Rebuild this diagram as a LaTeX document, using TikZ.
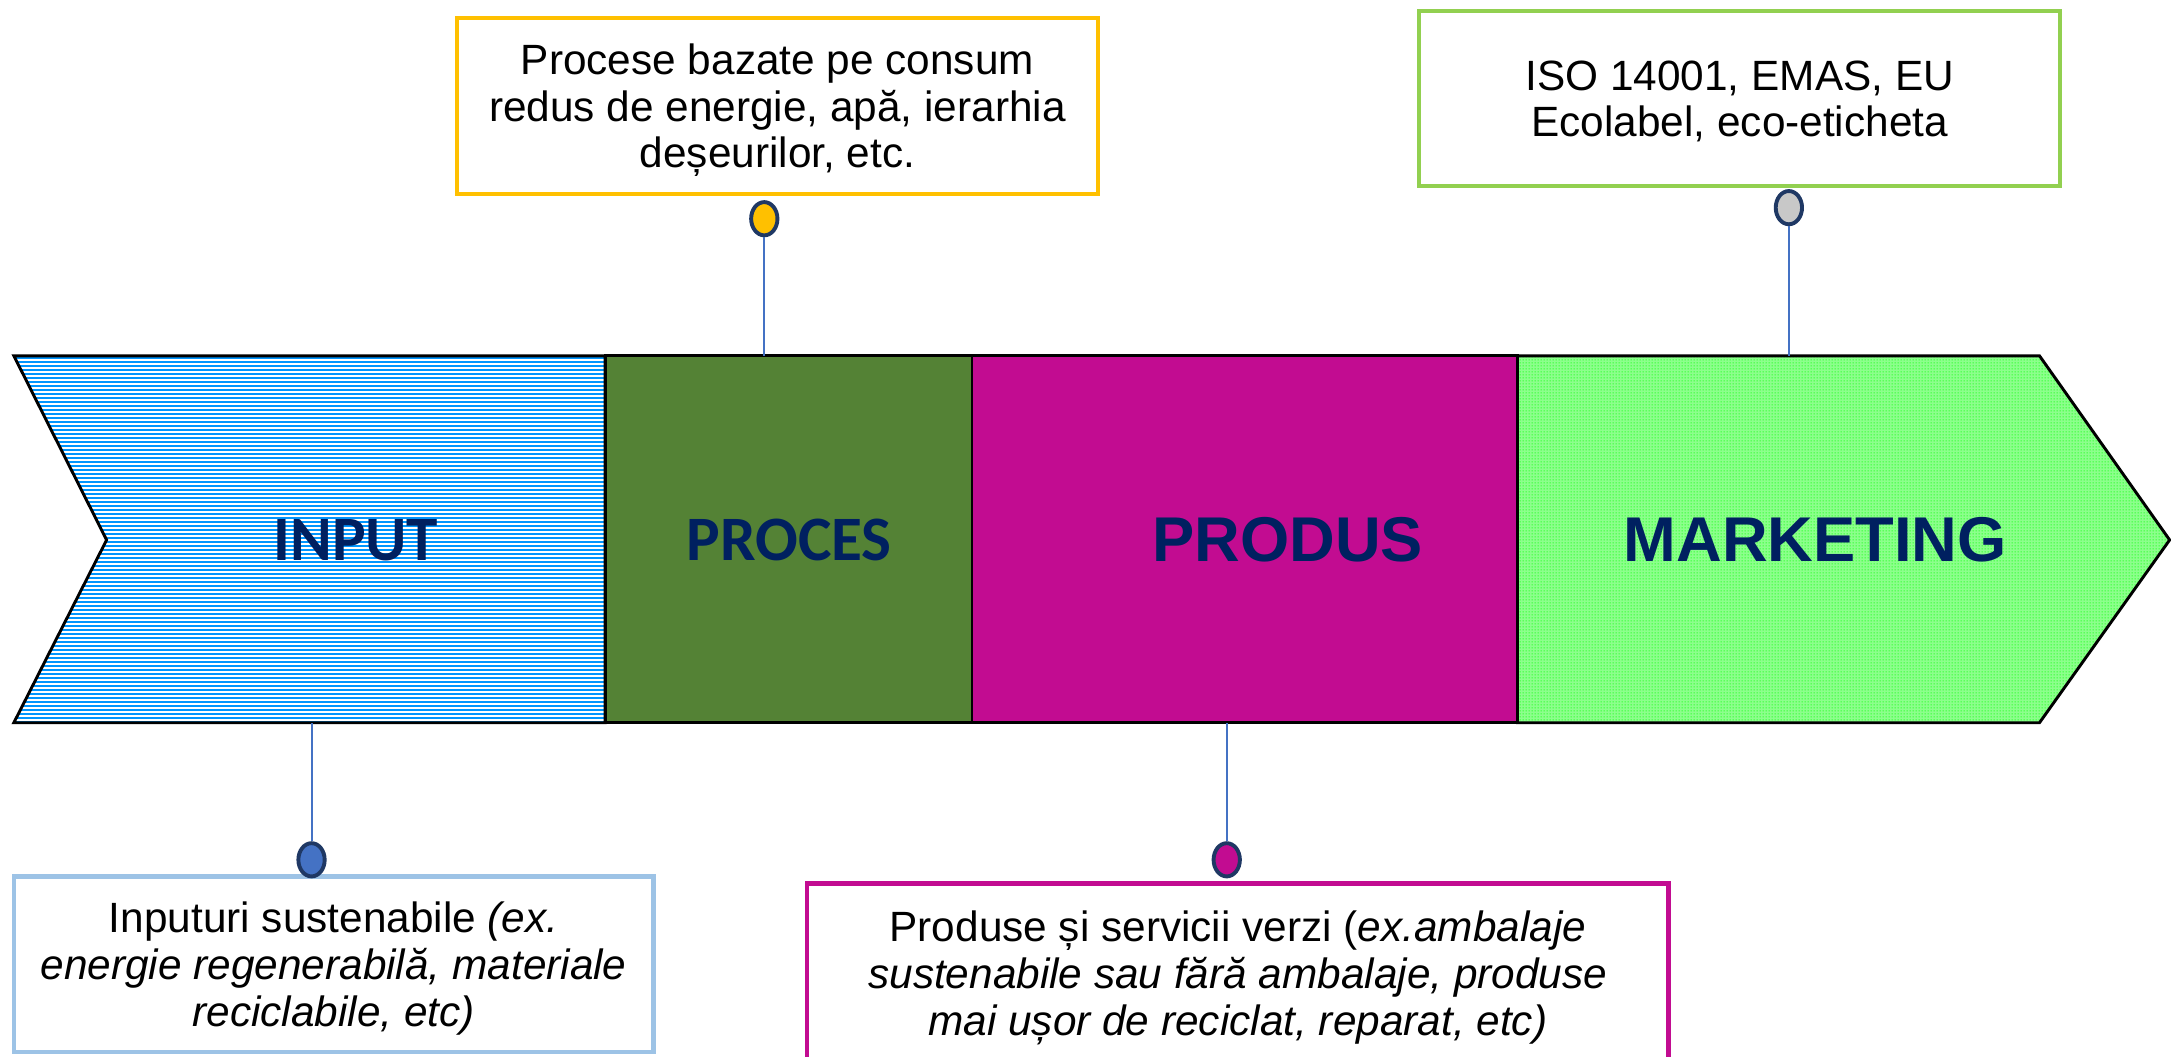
\documentclass[tikz,border=0pt]{standalone}
\usepackage{fontspec}
\setmainfont{Liberation Sans}
\newfontfamily\calibrifont{Carlito}
\usetikzlibrary{shapes.geometric,patterns.meta}

\definecolor{navy}{RGB}{0,32,96}
\definecolor{procgreen}{RGB}{84,130,53}
\definecolor{prodmag}{RGB}{194,12,145}
\definecolor{stripeblue}{RGB}{0,150,255}
\definecolor{dotgreen}{RGB}{0,255,0}
\definecolor{linkblue}{RGB}{68,114,196}
\definecolor{rimnavy}{RGB}{31,56,100}
\definecolor{boxyellow}{RGB}{255,192,0}
\definecolor{boxgreen}{RGB}{146,208,80}
\definecolor{boxblue}{RGB}{157,195,230}
\definecolor{knobgrey}{RGB}{200,200,200}

\tikzstyle{stage}=[draw=black,line width=0.6pt]
\tikzstyle{stripe}=[draw=stripeblue,line width=0.41pt]
\tikzstyle{stagetext}=[text=navy,font=\fontsize{13pt}{15pt}\selectfont\bfseries]
\tikzstyle{stagecal}=[text=navy,font=\calibrifont\fontsize{13pt}{15pt}\selectfont\bfseries]
\tikzstyle{knob}=[ellipse,draw=rimnavy,line width=0.8pt,minimum width=0.19cm,
                  minimum height=0.24cm,inner sep=0pt]
\tikzstyle{note}=[rectangle,line width=0.9pt,inner sep=0pt,
                  font=\fontsize{8.7pt}{9.6pt}\selectfont]
\tikzstyle{link}=[draw=linkblue,line width=0.4pt]

% centred lines, dropped a little inside their box
\newcommand{\notelines}[1]{\raisebox{-1.2pt}[\height][\depth]{%
  \begin{tabular}{@{}c@{}}#1\end{tabular}}}

\begin{document}
\begin{tikzpicture}
  \useasboundingbox (0,0) rectangle (15.68,7.63);

  % the four stages of the arrow
  \begin{scope}
    \clip (0.10,5.06) -- (4.37,5.06) -- (4.37,2.41) -- (0.10,2.41) -- (0.77,3.73) -- cycle;
    \foreach \k in {0,...,92}
      \draw[stripe] (0,5.06-0.01445-\k*0.02889) -- (4.40,5.06-0.01445-\k*0.02889);
  \end{scope}
  \draw[stage]
    (0.10,5.06) -- (4.37,5.06) -- (4.37,2.41) -- (0.10,2.41) -- (0.77,3.73) -- cycle;
  \path[stage,fill=procgreen] (4.37,5.06) rectangle (7.02,2.41);
  \path[stage,fill=prodmag] (7.02,5.06) rectangle (10.96,2.41);
  \path[stage,preaction={fill=dotgreen!45!white},pattern={Dots[distance=0.62pt,radius=0.16pt]},
        pattern color=dotgreen]
    (10.96,5.06) -- (14.73,5.06) -- (15.67,3.73) -- (14.73,2.41) -- (10.96,2.41) -- cycle;

  \node[stagecal] (input) at (2.57,3.73) {INPUT};
  \node[stagecal] (proces) at (5.70,3.73) {PROCES};
  \node[stagetext] (produs) at (9.30,3.73) {PRODUS};
  \node[stagetext] (marketing) at (13.11,3.73) {MARKETING};

  % where the pins meet the arrow
  \coordinate (inbot) at (2.25,2.41);
  \coordinate (proctop) at (5.52,5.06);
  \coordinate (prodbot) at (8.86,2.41);
  \coordinate (marktop) at (12.92,5.06);

  % notes
  \node[note,draw=boxyellow,minimum width=4.63cm,minimum height=1.27cm]
    (procnote) at (5.615,6.865)
    {\notelines{Procese bazate pe consum\\redus de energie, apă, ierarhia\\deșeurilor, etc.}};
  \node[note,draw=boxgreen,minimum width=4.63cm,minimum height=1.265cm]
    (marknote) at (12.565,6.92) {\notelines{ISO 14001, EMAS, EU\\Ecolabel, eco-eticheta}};
  \node[note,draw=boxblue,minimum width=4.62cm,minimum height=1.27cm]
    (innote) at (2.41,0.665)
    {\notelines{Inputuri sustenabile \textit{(ex.}\\\textit{energie regenerabilă, materiale}\\
     \textit{reciclabile, etc)}}};
  \node[note,draw=prodmag,minimum width=6.22cm,minimum height=1.30cm]
    (prodnote) at (8.94,0.60)
    {\notelines{Produse și servicii verzi (\textit{ex.ambalaje}\\
     \textit{sustenabile sau fără ambalaje, produse}\\
     \textit{mai ușor de reciclat, reparat, etc)}}};

  % pins
  \node[knob,fill=boxyellow] (procdot) at (5.52,6.05) {};
  \node[knob,fill=knobgrey] (markdot) at (12.92,6.13) {};
  \node[knob,fill=linkblue] (indot) at (2.25,1.42) {};
  \node[knob,fill=prodmag] (proddot) at (8.86,1.42) {};

  \draw[link] (procdot) -- (proctop);
  \draw[link] (markdot) -- (marktop);
  \draw[link] (indot) -- (inbot);
  \draw[link] (proddot) -- (prodbot);
\end{tikzpicture}
\end{document}
